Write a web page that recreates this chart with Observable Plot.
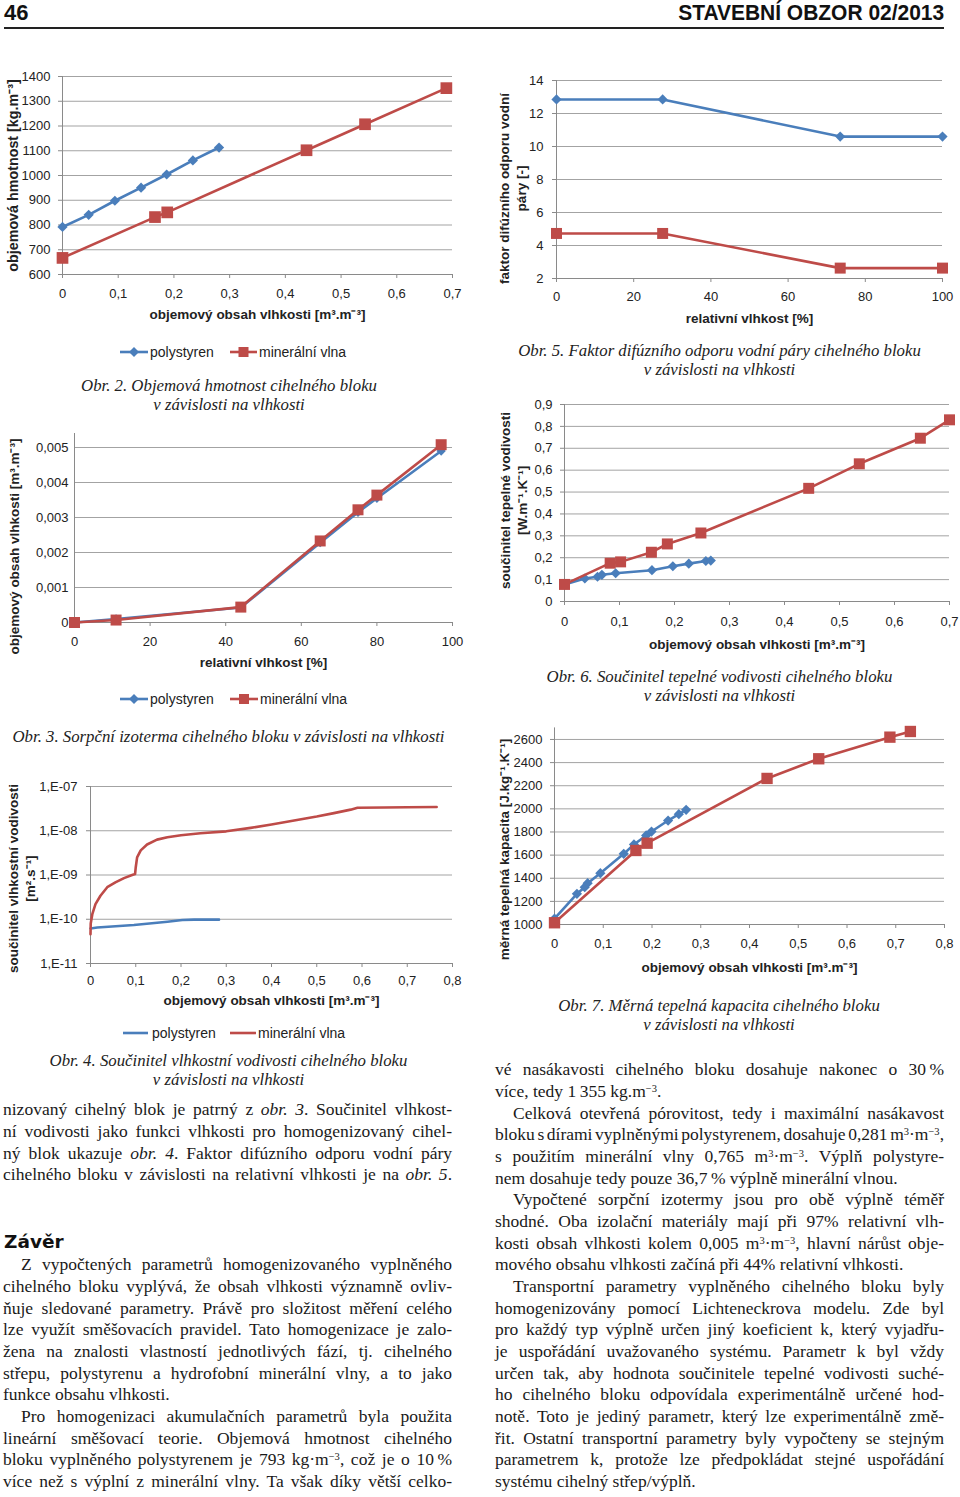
<!DOCTYPE html>
<html><head><meta charset="utf-8">
<script src="https://cdn.jsdelivr.net/npm/d3@7"></script>
<script src="https://cdn.jsdelivr.net/npm/@observablehq/plot@0.6"></script>
<style>
body{margin:0;background:#fff;}
#page{position:relative;width:960px;height:1497px;overflow:hidden;background:#fff;}
.cap{position:absolute;font-family:"Liberation Serif","Times New Roman",serif;font-style:italic;font-size:16.8px;line-height:19px;text-align:center;white-space:nowrap;color:#222;}
.legtxt{position:absolute;font-family:"Liberation Sans",Arial,sans-serif;font-size:14px;line-height:16px;white-space:nowrap;color:#222;}
.line{position:absolute;font-family:"Liberation Serif","Times New Roman",serif;font-size:17.5px;line-height:21.67px;white-space:nowrap;color:#1a1a1a;}
.line sup{font-size:60%;line-height:0;vertical-align:0.5em;}
.hdr{position:absolute;font-family:"Liberation Sans",Arial,sans-serif;font-weight:bold;font-size:22px;line-height:26px;white-space:nowrap;color:#111;}
.head2{position:absolute;font-family:"DejaVu Sans",sans-serif;font-weight:bold;font-size:18.5px;line-height:22px;white-space:nowrap;color:#111;}
</style></head><body><div id="page"></div>
<script>
// ---------------- DATA ----------------
const BLUE = "#4a7ebb", RED = "#be4b48";
const seriesNames = ["polystyren", "minerální vlna"];

// Obr. 2 – objemová hmotnost
const obr2PolyX = [0, 0.047, 0.094, 0.141, 0.187, 0.234, 0.281];
const obr2PolyY = [792, 841, 898, 951, 1004, 1061, 1113];
const obr2MinX  = [0, 0.166, 0.188, 0.438, 0.543, 0.689];
const obr2MinY  = [667, 832, 851, 1102, 1207, 1353];
const obr2XTicks = [0, 0.1, 0.2, 0.3, 0.4, 0.5, 0.6, 0.7];
const obr2YTicks = [600, 700, 800, 900, 1000, 1100, 1200, 1300, 1400];

// Obr. 5 – faktor difúzního odporu
const obr5X     = [0, 27.5, 73.5, 100];
const obr5PolyY = [12.85, 12.85, 10.6, 10.6];
const obr5MinY  = [4.73, 4.73, 2.63, 2.63];
const obr5XTicks = [0, 20, 40, 60, 80, 100];
const obr5YTicks = [2, 4, 6, 8, 10, 12, 14];

// Obr. 3 – sorpční izoterma
const obr3X     = [0, 11, 44, 65, 75, 80, 97];
const obr3PolyY = [0, 0.0001, 0.00043, 0.00228, 0.00315, 0.00355, 0.0049];
const obr3MinY  = [0, 0.00007, 0.00044, 0.00233, 0.00322, 0.00364, 0.00508];
const obr3XTicks = [0, 20, 40, 60, 80, 100];
const obr3YTicks = [0, 0.001, 0.002, 0.003, 0.004, 0.005];

// Obr. 6 – součinitel tepelné vodivosti
const obr6PolyX = [0, 0.037, 0.060, 0.068, 0.093, 0.159, 0.197, 0.226, 0.257, 0.266];
const obr6PolyY = [0.078, 0.105, 0.113, 0.122, 0.129, 0.143, 0.161, 0.173, 0.185, 0.187];
const obr6MinX  = [0, 0.083, 0.102, 0.158, 0.187, 0.248, 0.444, 0.536, 0.647, 0.700];
const obr6MinY  = [0.078, 0.175, 0.181, 0.225, 0.263, 0.313, 0.517, 0.629, 0.746, 0.830];
const obr6XTicks = [0, 0.1, 0.2, 0.3, 0.4, 0.5, 0.6, 0.7];
const obr6YTicks = [0, 0.1, 0.2, 0.3, 0.4, 0.5, 0.6, 0.7, 0.8, 0.9];

// Obr. 4 – součinitel vlhkostní vodivosti (log)
const obr4MinX = [0, 0.0005, 0.004, 0.011, 0.022, 0.037, 0.055, 0.074, 0.092, 0.0985, 0.1, 0.103, 0.111, 0.125, 0.147, 0.17, 0.2, 0.243, 0.3, 0.354, 0.4, 0.45, 0.5, 0.538, 0.575, 0.59, 0.649, 0.7, 0.765];
const obr4MinY = [4.6e-11, 8e-11, 1.3e-10, 2.2e-10, 3.4e-10, 5.3e-10, 6.8e-10, 8.5e-10, 1.0e-9, 1.05e-9, 1.5e-9, 2.5e-9, 3.6e-9, 4.9e-9, 6.3e-9, 7.1e-9, 7.9e-9, 8.8e-9, 9.7e-9, 1.16e-8, 1.38e-8, 1.7e-8, 2.09e-8, 2.5e-8, 3.0e-8, 3.3e-8, 3.35e-8, 3.4e-8, 3.45e-8];
const obr4PolyX = [0, 0.015, 0.096, 0.17, 0.203, 0.229, 0.284];
const obr4PolyY = [6.2e-11, 6.5e-11, 7.4e-11, 8.8e-11, 9.6e-11, 9.8e-11, 9.8e-11];
const obr4XTicks = [0, 0.1, 0.2, 0.3, 0.4, 0.5, 0.6, 0.7, 0.8];
const obr4YTicks = [1e-11, 1e-10, 1e-9, 1e-8, 1e-7];

// Obr. 7 – měrná tepelná kapacita
const obr7PolyX = [0, 0.046, 0.062, 0.068, 0.094, 0.142, 0.163, 0.188, 0.199, 0.233, 0.255, 0.270];
const obr7PolyY = [1050, 1265, 1323, 1357, 1444, 1611, 1692, 1770, 1804, 1899, 1954, 1992];
const obr7MinX  = [0, 0.167, 0.190, 0.436, 0.542, 0.688, 0.730];
const obr7MinY  = [1015, 1640, 1703, 2263, 2433, 2620, 2669];
const obr7XTicks = [0, 0.1, 0.2, 0.3, 0.4, 0.5, 0.6, 0.7, 0.8];
const obr7YTicks = [1000, 1200, 1400, 1600, 1800, 2000, 2200, 2400, 2600];

const xTitleMoist = "objemový obsah vlhkosti [m³.m⁻³]";
const xTitleRH = "relativní vlhkost [%]";

const captions = [
  {x:229,   y:[387,406],   lines:["Obr. 2. Objemová hmotnost cihelného bloku","v závislosti na vlhkosti"]},
  {x:719.5, y:[352,371],   lines:["Obr. 5. Faktor difúzního odporu vodní páry cihelného bloku","v závislosti na vlhkosti"]},
  {x:719.5, y:[678,697],   lines:["Obr. 6. Součinitel tepelné vodivosti cihelného bloku","v závislosti na vlhkosti"]},
  {x:228.5, y:[738],       lines:["Obr. 3. Sorpční izoterma cihelného bloku v závislosti na vlhkosti"]},
  {x:719,   y:[1007,1026], lines:["Obr. 7. Měrná tepelná kapacita cihelného bloku","v závislosti na vlhkosti"]},
  {x:228.5, y:[1062,1081], lines:["Obr. 4. Součinitel vlhkostní vodivosti cihelného bloku","v závislosti na vlhkosti"]}
];

const T = "\u2009";
const leftPara1 = [
  ["nizovaný cihelný blok je patrný z <i>obr. 3</i>. Součinitel vlhkost-",1,0],
  ["ní vodivosti jako funkci vlhkosti pro homogenizovaný cihel-",1,0],
  ["ný blok ukazuje <i>obr. 4</i>. Faktor difúzního odporu vodní páry",1,0],
  ["cihelného bloku v závislosti na relativní vlhkosti je na <i>obr. 5</i>.",1,0]
];
const leftPara2 = [
  ["Z vypočtených parametrů homogenizovaného vyplněného",1,1],
  ["cihelného bloku vyplývá, že obsah vlhkosti významně ovliv-",1,0],
  ["ňuje sledované parametry. Právě pro složitost měření celého",1,0],
  ["lze využít směšovacích pravidel. Tato homogenizace je zalo-",1,0],
  ["žena na znalosti vlastností jednotlivých fází, tj. cihelného",1,0],
  ["střepu, polystyrenu a hydrofobní minerální vlny, a to jako",1,0],
  ["funkce obsahu vlhkosti.",0,0],
  ["Pro homogenizaci akumulačních parametrů byla použita",1,1],
  ["lineární směšovací teorie. Objemová hmotnost cihelného",1,0],
  ["bloku vyplněného polystyrenem je 793 kg·m<sup>−3</sup>, což je o 10"+T+"%",1,0],
  ["více než s výplní z minerální vlny. Ta však díky větší celko-",1,0]
];
const rightLines = [
  ["vé nasákavosti cihelného bloku dosahuje nakonec o 30"+T+"%",1,0],
  ["více, tedy 1"+T+"355 kg.m<sup>−3</sup>.",0,0],
  ["Celková otevřená pórovitost, tedy i maximální nasákavost",1,1],
  ["bloku s dírami vyplněnými polystyrenem, dosahuje 0,281 m<sup>3</sup>·m<sup>−3</sup>,",1,0],
  ["s použitím minerální vlny 0,765 m<sup>3</sup>·m<sup>−3</sup>. Výplň polystyre-",1,0],
  ["nem dosahuje tedy pouze 36,7"+T+"% výplně minerální vlnou.",0,0],
  ["Vypočtené sorpční izotermy jsou pro obě výplně téměř",1,1],
  ["shodné. Oba izolační materiály mají při 97% relativní vlh-",1,0],
  ["kosti obsah vlhkosti kolem 0,005 m<sup>3</sup>·m<sup>−3</sup>, hlavní nárůst obje-",1,0],
  ["mového obsahu vlhkosti začíná při 44% relativní vlhkosti.",0,0],
  ["Transportní parametry vyplněného cihelného bloku byly",1,1],
  ["homogenizovány pomocí Lichteneckrova modelu. Zde byl",1,0],
  ["pro každý typ výplně určen jiný koeficient k, který vyjadřu-",1,0],
  ["je uspořádání uvažovaného systému. Parametr k byl vždy",1,0],
  ["určen tak, aby hodnota součinitele tepelné vodivosti suché-",1,0],
  ["ho cihelného bloku odpovídala experimentálně určené hod-",1,0],
  ["notě. Toto je jediný parametr, který lze experimentálně změ-",1,0],
  ["řit. Ostatní transportní parametry byly vypočteny se stejným",1,0],
  ["parametrem k, protože lze předpokládat stejné uspořádání",1,0],
  ["systému cihelný střep/výplň.",0,0]
];

// ---------------- HELPERS ----------------
const page = document.getElementById("page");
const fmtDec = d => d === 0 ? "0" : String(+d.toFixed(4)).replace(".", ",");
const fmtInt = d => String(d);
const fmtLog = d => "1,E-" + String(Math.round(-Math.log10(d))).padStart(2, "0");
const zip = (xs, ys) => xs.map((v, i) => ({x: v, y: ys[i]}));
const AX = "#8a8a8a";

function makeChart(o) {
  const [L, Tp, W, H] = o.box;
  const [fl, fr, ft, fb] = o.frame;
  const marks = [
    Plot.gridY({ticks: o.yTicks, stroke: "#a3a3a3", strokeOpacity: 1, strokeWidth: 1}),
    Plot.ruleX([o.xDomain[0]], {stroke: AX, strokeWidth: 1}),
    Plot.ruleY([o.yDomain[0]], {stroke: AX, strokeWidth: 1}),
    Plot.axisX({ticks: o.xTicks, tickFormat: o.xFmt, tickSize: 4, tickPadding: o.xPad, stroke: AX, label: null, fontSize: 13}),
    Plot.axisY({ticks: o.yTicks, tickFormat: o.yFmt, tickSize: o.yTickSize ?? 4, tickPadding: o.yPad, stroke: AX, label: null, fontSize: 13})
  ];
  for (const s of o.series) {
    const data = zip(s.x, s.y);
    marks.push(Plot.line(data, {x: "x", y: "y", stroke: s.color, strokeWidth: 2.6, curve: s.curve || "linear"}));
    if (s.symbol) marks.push(Plot.dot(data, {x: "x", y: "y", symbol: s.symbol, fill: s.color, r: s.r}));
  }
  marks.push(Plot.text([o.xTitle], {frameAnchor: "bottom", dy: o.xTitleDy, text: d => d, fontWeight: "bold", fontSize: 13.5,
    textAnchor: "middle", lineAnchor: "middle", fill: "#222"}));
  marks.push(Plot.text([o.yTitle], {frameAnchor: "left", dx: o.yTitlePos[0] - fl, dy: o.yTitlePos[1] - (ft + fb) / 2,
    rotate: -90, text: d => d, fontWeight: "bold", fontSize: o.yTitleSize || 13.5, textAnchor: "middle", lineAnchor: "middle", lineHeight: 1.26, fill: "#222"}));
  const svg = Plot.plot({
    width: W, height: H,
    marginLeft: fl - L, marginRight: L + W - fr, marginTop: ft - Tp, marginBottom: Tp + H - fb,
    x: {domain: o.xDomain, label: null},
    y: {type: o.yType || "linear", domain: o.yDomain, label: null},
    style: {fontFamily: "'Liberation Sans', Arial, sans-serif", fontSize: "13px", color: "#222", background: "transparent", overflow: "visible"},
    marks
  });
  svg.style.position = "absolute";
  svg.style.left = L + "px";
  svg.style.top = Tp + "px";
  page.appendChild(svg);
}

function legend(y, items) {
  for (const it of items) {
    const ns = "http://www.w3.org/2000/svg";
    const s = document.createElementNS(ns, "svg");
    s.setAttribute("width", it.w); s.setAttribute("height", 14);
    s.style.position = "absolute"; s.style.left = it.sx + "px"; s.style.top = (y - 7) + "px";
    const ln = document.createElementNS(ns, "line");
    ln.setAttribute("x1", 0); ln.setAttribute("x2", it.w); ln.setAttribute("y1", 7); ln.setAttribute("y2", 7);
    ln.setAttribute("stroke", it.color); ln.setAttribute("stroke-width", 2.6);
    s.appendChild(ln);
    const c = it.w / 2;
    if (it.symbol === "diamond") {
      const p = document.createElementNS(ns, "polygon");
      p.setAttribute("points", `${c},2 ${c+5},7 ${c},12 ${c-5},7`); p.setAttribute("fill", it.color); s.appendChild(p);
    } else if (it.symbol === "square") {
      const p = document.createElementNS(ns, "rect");
      p.setAttribute("x", c - 5); p.setAttribute("y", 2); p.setAttribute("width", 10); p.setAttribute("height", 10); p.setAttribute("fill", it.color); s.appendChild(p);
    }
    page.appendChild(s);
    const t = document.createElement("div");
    t.className = "legtxt"; t.textContent = it.label;
    t.style.left = it.tx + "px"; t.style.top = (y - 8.5) + "px";
    page.appendChild(t);
  }
}

// ---------------- CHARTS ----------------
makeChart({box: [0, 60, 470, 270], frame: [62, 452, 76, 274],
  xDomain: [0, 0.7], yDomain: [600, 1400], xTicks: obr2XTicks, yTicks: obr2YTicks, xFmt: fmtDec, yFmt: fmtInt,
  xPad: 10, yPad: 8, xTitle: xTitleMoist, xTitleDy: 40, yTitle: "objemová hmotnost [kg.m⁻³]", yTitlePos: [12, 175], yTitleSize: 14.3,
  series: [{x: obr2PolyX, y: obr2PolyY, color: BLUE, symbol: "diamond2", r: 4.6},
           {x: obr2MinX, y: obr2MinY, color: RED, symbol: "square", r: 6.6}]});

makeChart({box: [480, 60, 480, 270], frame: [556, 942, 80, 278],
  xDomain: [0, 100], yDomain: [2, 14], xTicks: obr5XTicks, yTicks: obr5YTicks, xFmt: fmtInt, yFmt: fmtInt,
  xPad: 9.5, yPad: 9, xTitle: xTitleRH, xTitleDy: 40, yTitle: "faktor difúzního odporu vodní\npáry [-]", yTitlePos: [511.5, 188],
  series: [{x: obr5X, y: obr5PolyY, color: BLUE, symbol: "diamond2", r: 4.6},
           {x: obr5X, y: obr5MinY, color: RED, symbol: "square", r: 6.2}]});

makeChart({box: [0, 420, 470, 300], frame: [74, 452, 433, 622],
  xDomain: [0, 100], yDomain: [0, 0.0054], xTicks: obr3XTicks, yTicks: obr3YTicks, xFmt: fmtInt, yFmt: fmtDec,
  xPad: 10, yPad: 6, yTickSize: 0, xTitle: xTitleRH, xTitleDy: 40, yTitle: "objemový obsah vlhkosti [m³.m⁻³]", yTitlePos: [13, 546],
  series: [{x: obr3X, y: obr3PolyY, color: BLUE, symbol: "diamond2", r: 4.2},
           {x: obr3X, y: obr3MinY, color: RED, symbol: "square", r: 6.2}]});

makeChart({box: [480, 390, 480, 270], frame: [564, 949, 404, 601],
  xDomain: [0, 0.7], yDomain: [0, 0.9], xTicks: obr6XTicks, yTicks: obr6YTicks, xFmt: fmtDec, yFmt: fmtDec,
  xPad: 11, yPad: 8, xTitle: xTitleMoist, xTitleDy: 43, yTitle: "součinitel tepelné vodivosti\n[W.m⁻¹.K⁻¹]", yTitlePos: [512.5, 500],
  series: [{x: obr6PolyX, y: obr6PolyY, color: BLUE, symbol: "diamond2", r: 4.6},
           {x: obr6MinX, y: obr6MinY, color: RED, symbol: "square", r: 6.2}]});

makeChart({box: [0, 770, 470, 250], frame: [90, 452, 786, 963],
  xDomain: [0, 0.8], yDomain: [1e-11, 1e-7], yType: "log", xTicks: obr4XTicks, yTicks: obr4YTicks, xFmt: fmtDec, yFmt: fmtLog,
  xPad: 8.5, yPad: 9, xTitle: xTitleMoist, xTitleDy: 37, yTitle: "součinitel vlhkostní vodivosti\n[m².s⁻¹]", yTitlePos: [21, 878],
  series: [{x: obr4PolyX, y: obr4PolyY, color: BLUE},
           {x: obr4MinX, y: obr4MinY, color: RED}]});

makeChart({box: [480, 720, 480, 260], frame: [554, 944, 727.4, 924],
  xDomain: [0, 0.8], yDomain: [1000, 2700], xTicks: obr7XTicks, yTicks: obr7YTicks, xFmt: fmtDec, yFmt: fmtInt,
  xPad: 10, yPad: 8, xTitle: xTitleMoist, xTitleDy: 43, yTitle: "měrná tepelná kapacita [J.kg⁻¹.K⁻¹]", yTitlePos: [503, 849],
  series: [{x: obr7PolyX, y: obr7PolyY, color: BLUE, symbol: "diamond2", r: 4.6},
           {x: obr7MinX, y: obr7MinY, color: RED, symbol: "square", r: 6.4}]});

// legends
legend(352, [{sx: 120, w: 28, tx: 150, color: BLUE, symbol: "diamond", label: seriesNames[0]},
             {sx: 230, w: 27, tx: 259, color: RED, symbol: "square", label: seriesNames[1]}]);
legend(699, [{sx: 120, w: 28, tx: 150, color: BLUE, symbol: "diamond", label: seriesNames[0]},
             {sx: 230, w: 28, tx: 260, color: RED, symbol: "square", label: seriesNames[1]}]);
legend(1033, [{sx: 123, w: 25, tx: 152, color: BLUE, label: seriesNames[0]},
              {sx: 230, w: 26, tx: 258, color: RED, label: seriesNames[1]}]);

// captions
for (const c of captions) {
  c.lines.forEach((ln, i) => {
    const d = document.createElement("div");
    d.className = "cap"; d.textContent = ln;
    d.style.left = (c.x - 300) + "px"; d.style.width = "600px"; d.style.top = (c.y[i] - 11.5) + "px";
    page.appendChild(d);
  });
}

// header
const h1 = document.createElement("div"); h1.className = "hdr"; h1.textContent = "46";
h1.style.left = "4px"; h1.style.top = "0px"; page.appendChild(h1);
const h2 = document.createElement("div"); h2.className = "hdr"; h2.textContent = "STAVEBNÍ OBZOR 02/2013";
h2.style.right = (960 - 944) + "px"; h2.style.top = "0px"; h2.style.transformOrigin = "right center"; page.appendChild(h2);
const rule = document.createElement("div");
Object.assign(rule.style, {position: "absolute", left: "4px", width: "940px", top: "26.5px", height: "2px", background: "#222"});
page.appendChild(rule);
const zh = document.createElement("div"); zh.className = "head2"; zh.textContent = "Závěr";
zh.style.left = "4px"; zh.style.top = (1243 - 12) + "px"; page.appendChild(zh);

// body text
const textDivs = [];
function addLines(lines, x0, w, y0) {
  lines.forEach(([html, just, ind], i) => {
    const d = document.createElement("div");
    d.className = "line";
    const indent = ind ? 18 : 0;
    d.style.left = (x0 + indent) + "px";
    d.style.width = (w - indent) + "px";
    d.style.top = (y0 + i * 21.67 - 12.3) + "px";
    d.innerHTML = "<span>" + html + "</span>";
    page.appendChild(d);
    textDivs.push({d, just, target: w - indent});
  });
}
addLines(leftPara1, 3, 449, 1111.7);
addLines(leftPara2, 3, 449, 1266.7);
addLines(rightLines, 495, 449, 1071.7);

function layoutText() {
  for (const {d, just, target} of textDivs) {
    d.style.wordSpacing = "0px";
    if (!just) continue;
    const sp = d.firstChild;
    const w = sp.getBoundingClientRect().width;
    const n = (sp.textContent.match(/ /g) || []).length;
    if (n > 0) d.style.wordSpacing = ((target - w) / n) + "px";
  }
  h2.style.transform = "none";
  const hw = h2.getBoundingClientRect().width;
  h2.style.transform = `scaleX(${266 / hw})`;
}
layoutText();
if (document.fonts && document.fonts.ready) document.fonts.ready.then(layoutText);
</script></body></html>
